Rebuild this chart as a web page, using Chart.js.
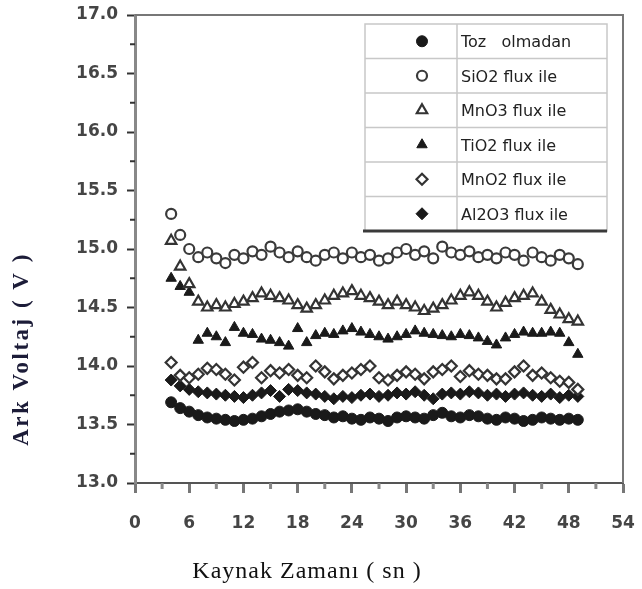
<!DOCTYPE html>
<html>
<head>
<meta charset="utf-8">
<script src="https://cdn.jsdelivr.net/npm/chart.js@4"></script>
<style>
  body { margin: 0; background: #fff; }
</style>
</head>
<body>
<canvas id="arkVoltaj" width="642" height="589"></canvas>
<script>
// kaynak zamanı (sn)
const zaman = [4, 5, 6, 7, 8, 9, 10, 11, 12, 13, 14, 15, 16, 17, 18, 19, 20, 21, 22, 23,
    24, 25, 26, 27, 28, 29, 30, 31, 32, 33, 34, 35, 36, 37, 38, 39, 40, 41, 42, 43,
    44, 45, 46, 47, 48, 49];

// ark voltajı (V)
const tozOlmadan = [13.69, 13.64, 13.61, 13.58, 13.56, 13.55, 13.54, 13.53, 13.54, 13.55,
    13.57, 13.59, 13.61, 13.62, 13.63, 13.61, 13.59, 13.58, 13.56, 13.57,
    13.55, 13.54, 13.56, 13.55, 13.53, 13.56, 13.57, 13.56, 13.55, 13.58,
    13.60, 13.57, 13.56, 13.58, 13.57, 13.55, 13.54, 13.56, 13.55, 13.53,
    13.54, 13.56, 13.55, 13.54, 13.55, 13.54];
const sio2 = [15.30, 15.12, 15.00, 14.93, 14.97, 14.92, 14.88, 14.95, 14.92, 14.98,
    14.95, 15.02, 14.97, 14.93, 14.98, 14.93, 14.90, 14.95, 14.97, 14.92,
    14.97, 14.93, 14.95, 14.90, 14.92, 14.97, 15.00, 14.95, 14.98, 14.92,
    15.02, 14.97, 14.95, 14.98, 14.93, 14.95, 14.92, 14.97, 14.95, 14.90,
    14.97, 14.93, 14.90, 14.95, 14.92, 14.87];
const mno3 = [15.07, 14.85, 14.70, 14.55, 14.50, 14.52, 14.50, 14.53, 14.55, 14.58,
    14.62, 14.60, 14.58, 14.56, 14.52, 14.49, 14.52, 14.56, 14.60, 14.62,
    14.64, 14.60, 14.58, 14.55, 14.52, 14.55, 14.52, 14.50, 14.47, 14.49,
    14.52, 14.56, 14.60, 14.63, 14.60, 14.55, 14.50, 14.54, 14.58, 14.60,
    14.62, 14.55, 14.48, 14.44, 14.40, 14.38];
const tio2 = [14.75, 14.68, 14.63, 14.22, 14.28, 14.25, 14.20, 14.33, 14.28, 14.27,
    14.23, 14.22, 14.20, 14.17, 14.32, 14.20, 14.26, 14.28, 14.27, 14.30,
    14.32, 14.29, 14.27, 14.25, 14.23, 14.25, 14.27, 14.30, 14.28, 14.27,
    14.26, 14.25, 14.27, 14.26, 14.24, 14.21, 14.18, 14.24, 14.27, 14.29,
    14.28, 14.28, 14.29, 14.28, 14.20, 14.10];
const mno2 = [14.03, 13.92, 13.90, 13.93, 13.98, 13.97, 13.93, 13.88, 13.99, 14.03,
    13.90, 13.96, 13.94, 13.97, 13.92, 13.90, 14.00, 13.95, 13.89, 13.92,
    13.94, 13.97, 14.00, 13.90, 13.88, 13.92, 13.95, 13.93, 13.89, 13.95,
    13.97, 14.00, 13.91, 13.96, 13.93, 13.92, 13.89, 13.89, 13.95, 14.00,
    13.92, 13.94, 13.90, 13.87, 13.86, 13.80];
const al2o3 = [13.88, 13.83, 13.80, 13.78, 13.77, 13.76, 13.75, 13.74, 13.73, 13.75,
    13.77, 13.79, 13.74, 13.80, 13.79, 13.77, 13.76, 13.74, 13.72, 13.74,
    13.73, 13.75, 13.76, 13.74, 13.75, 13.77, 13.76, 13.78, 13.75, 13.72,
    13.76, 13.77, 13.76, 13.78, 13.77, 13.75, 13.76, 13.74, 13.76, 13.77,
    13.75, 13.74, 13.76, 13.73, 13.75, 13.74];

const seriAdlari = ['Toz   olmadan', 'SiO2 flux ile', 'MnO3 flux ile', 'TiO2 flux ile', 'MnO2 flux ile', 'Al2O3 flux ile'];
const seriDegerleri = [tozOlmadan, sio2, mno3, tio2, mno2, al2o3];

const xTicks = [0, 6, 12, 18, 24, 30, 36, 42, 48, 54];
const yTicks = [13.0, 13.5, 14.0, 14.5, 15.0, 15.5, 16.0, 16.5, 17.0];

const koyu = '#1a1a1a';
const isaretler = [
    { pointStyle: 'circle', radius: 5.5, bg: koyu, border: koyu, bw: 1 },
    { pointStyle: 'circle', radius: 5, bg: '#fff', border: '#3a3a3a', bw: 2.2 },
    { pointStyle: 'triangle', radius: 6, bg: '#fff', border: '#333', bw: 2.2 },
    { pointStyle: 'triangle', radius: 6, bg: koyu, border: koyu, bw: 1 },
    { pointStyle: 'rectRot', radius: 5.5, bg: '#fff', border: '#333', bw: 2.2 },
    { pointStyle: 'rectRot', radius: 6, bg: koyu, border: koyu, bw: 1 }
];

const datasets = seriAdlari.map(function (ad, i) {
    const m = isaretler[i];
    return {
        label: ad,
        data: zaman.map(function (t, j) { return { x: t, y: seriDegerleri[i][j] }; }),
        showLine: false,
        pointStyle: m.pointStyle,
        pointRadius: m.radius,
        backgroundColor: m.bg,
        borderColor: m.border,
        borderWidth: m.bw
    };
});

// etiket taşmaları için eklenen iç boşlukları sıfırla, çizim alanı sabit kalsın
function sabitBoyut(genislik, yukseklik) {
    return function (scale) {
        if (genislik) scale.width = genislik;
        if (yukseklik) scale.height = yukseklik;
        scale.paddingLeft = 0;
        scale.paddingRight = 0;
        scale.paddingTop = 0;
        scale.paddingBottom = 0;
    };
}

// ara (minor) çentikler ve üst/sağ çerçeve
const cerceve = {
    id: 'cerceve',
    beforeDatasetsDraw(chart) {
        const ctx = chart.ctx;
        const a = chart.chartArea;
        const xs = chart.scales.x;
        const ys = chart.scales.y;
        ctx.save();
        ctx.strokeStyle = '#777';
        ctx.lineWidth = 2;
        ctx.beginPath();
        ctx.moveTo(a.left, a.top);
        ctx.lineTo(a.right, a.top);
        ctx.lineTo(a.right, a.bottom);
        ctx.stroke();

        ctx.strokeStyle = '#888';
        ctx.lineWidth = 3;
        for (let i = 0; i < xTicks.length - 1; i++) {
            const px = xs.getPixelForValue((xTicks[i] + xTicks[i + 1]) / 2);
            ctx.beginPath();
            ctx.moveTo(px, a.bottom);
            ctx.lineTo(px, a.bottom + 6);
            ctx.stroke();
        }
        ctx.strokeStyle = '#333';
        ctx.lineWidth = 2;
        for (let i = 0; i < yTicks.length - 1; i++) {
            const py = ys.getPixelForValue((yTicks[i] + yTicks[i + 1]) / 2);
            ctx.beginPath();
            ctx.moveTo(a.left - 5, py);
            ctx.lineTo(a.left, py);
            ctx.stroke();
        }
        ctx.restore();
    }
};

// tablo biçiminde lejant
const tabloLejant = {
    id: 'tabloLejant',
    afterDraw(chart) {
        const ctx = chart.ctx;
        const sol = 365, sag = 607, ust = 24, alt = 231, ayrac = 457;
        const satir = (alt - ust) / seriAdlari.length;
        ctx.save();
        ctx.fillStyle = '#fff';
        ctx.fillRect(sol, ust, sag - sol, alt - ust);
        ctx.strokeStyle = '#c8c8c8';
        ctx.lineWidth = 1.5;
        ctx.strokeRect(sol, ust, sag - sol, alt - ust);
        ctx.beginPath();
        ctx.moveTo(ayrac, ust);
        ctx.lineTo(ayrac, alt);
        for (let i = 1; i < seriAdlari.length; i++) {
            ctx.moveTo(sol, ust + i * satir);
            ctx.lineTo(sag, ust + i * satir);
        }
        ctx.stroke();
        ctx.strokeStyle = '#3a3a3a';
        ctx.lineWidth = 3;
        ctx.beginPath();
        ctx.moveTo(sol - 2, alt);
        ctx.lineTo(sag, alt);
        ctx.stroke();

        ctx.font = '16px "DejaVu Sans"';
        ctx.textBaseline = 'middle';
        ctx.textAlign = 'left';
        seriAdlari.forEach(function (ad, i) {
            const m = isaretler[i];
            const cy = ust + (i + 0.5) * satir;
            ctx.fillStyle = m.bg;
            ctx.strokeStyle = m.border;
            ctx.lineWidth = m.bw;
            Chart.helpers.drawPoint(ctx, { pointStyle: m.pointStyle, radius: m.radius, rotation: 0, borderWidth: m.bw }, 422, cy);
            ctx.fillStyle = '#222';
            ctx.fillText(ad, 461, cy + 2);
        });
        ctx.restore();
    }
};

// eksen başlıkları
const eksenBasliklari = {
    id: 'eksenBasliklari',
    afterDraw(chart) {
        const ctx = chart.ctx;
        ctx.save();
        ctx.textAlign = 'center';
        ctx.textBaseline = 'middle';
        ctx.fillStyle = '#1c1c38';
        ctx.font = 'bold 23px "Liberation Serif"';
        ctx.letterSpacing = '2.5px';
        ctx.translate(22, 349);
        ctx.rotate(-Math.PI / 2);
        ctx.fillText('Ark Voltaj ( V )', 0, 0);
        ctx.restore();

        ctx.save();
        ctx.textAlign = 'center';
        ctx.textBaseline = 'middle';
        ctx.fillStyle = '#111';
        ctx.font = '24px "Liberation Serif"';
        ctx.letterSpacing = '1px';
        ctx.fillText('Kaynak Zamanı ( sn )', 307, 572);
        ctx.restore();
    }
};

const etiketFont = { family: '"DejaVu Sans"', size: 17, weight: 'bold' };

new Chart(document.getElementById('arkVoltaj'), {
    type: 'scatter',
    data: { datasets: datasets },
    plugins: [cerceve, tabloLejant, eksenBasliklari],
    options: {
        responsive: false,
        animation: false,
        layout: { padding: { top: 15, right: 19, left: 0, bottom: 0 } },
        plugins: {
            legend: { display: false },
            tooltip: { enabled: false }
        },
        scales: {
            x: {
                type: 'linear',
                min: 0,
                max: 54,
                afterFit: sabitBoyut(0, 106),
                afterBuildTicks: function (scale) {
                    scale.ticks = xTicks.map(function (v) { return { value: v }; });
                },
                ticks: {
                    font: etiketFont,
                    color: '#454545',
                    padding: 20
                },
                grid: {
                    drawOnChartArea: false,
                    tickLength: 10,
                    tickWidth: 3,
                    tickColor: '#777'
                },
                border: { color: '#555', width: 2 }
            },
            y: {
                min: 13,
                max: 17,
                afterFit: sabitBoyut(135, 0),
                afterBuildTicks: function (scale) {
                    scale.ticks = yTicks.map(function (v) { return { value: v }; });
                },
                ticks: {
                    font: etiketFont,
                    color: '#454545',
                    padding: 9,
                    callback: function (v) { return Number(v).toFixed(1); }
                },
                grid: {
                    drawOnChartArea: false,
                    tickLength: 8,
                    tickWidth: 2,
                    tickColor: '#333'
                },
                border: { color: '#888', width: 3 }
            }
        }
    }
});
</script>
</body>
</html>
